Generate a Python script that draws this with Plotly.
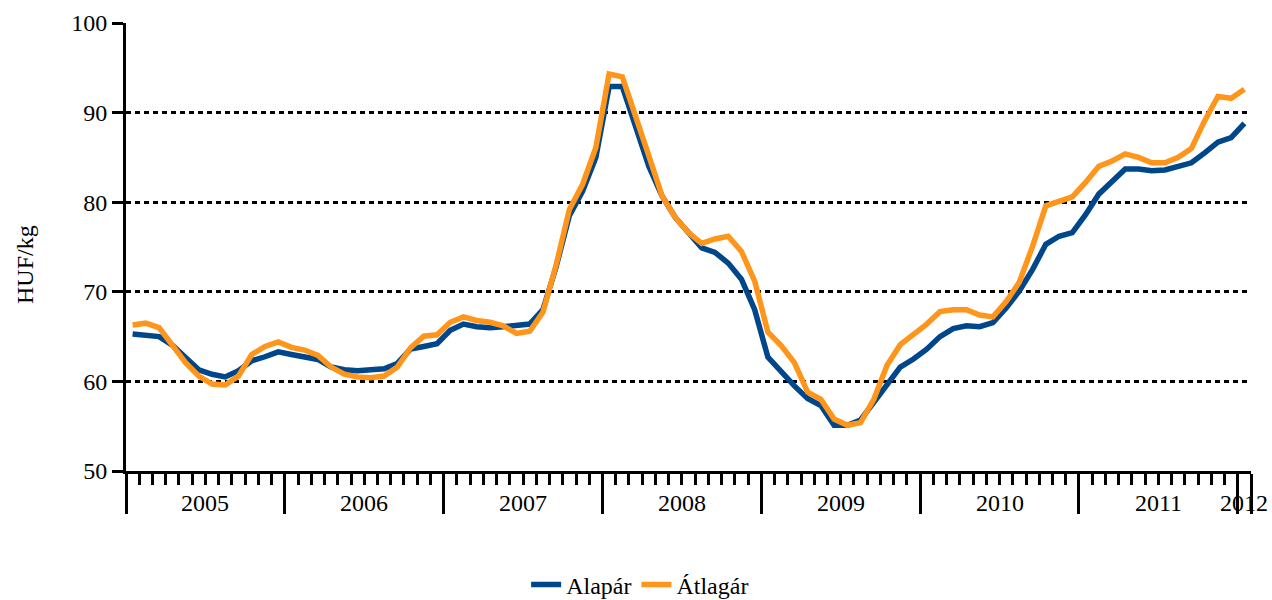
import plotly.graph_objects as go

# Monthly data, Jan 2005 - Jan 2012
years = ["2005", "2006", "2007", "2008", "2009", "2010", "2011", "2012"]
months_per_year = [12, 12, 12, 12, 12, 12, 12, 1]
months = [f"{y}-{m:02d}" for y, n in zip(years, months_per_year) for m in range(1, n + 1)]

alapar = [65.3, 65.1, 65.0, 64.05, 62.6, 61.3, 60.8, 60.5, 61.2, 62.3,
          62.75, 63.3, 63.0, 62.75, 62.45, 61.6, 61.3, 61.2, 61.3, 61.4,
          62.0, 63.6, 63.9, 64.2, 65.7, 66.4, 66.1, 66.0, 66.1, 66.2,
          66.4, 68.0, 72.8, 78.5, 81.25, 85.0, 92.9, 92.9, 88.5, 84.0,
          80.7, 78.3, 76.6, 74.9, 74.4, 73.2, 71.4, 68.0, 62.7, 61.0,
          59.5, 58.1, 57.3, 55.1, 55.1, 55.7, 57.7, 59.7, 61.6, 62.5,
          63.6, 65.0, 65.9, 66.2, 66.1, 66.55, 68.2, 70.1, 72.5, 75.3,
          76.2, 76.6, 78.6, 80.9, 82.2, 83.7, 83.7, 83.5, 83.6, 84.0,
          84.4, 85.5, 86.7, 87.2, 88.8]

atlagar = [66.3, 66.5, 66.0, 64.1, 62.1, 60.6, 59.7, 59.6, 60.6, 63.0,
           63.9, 64.4, 63.8, 63.5, 62.9, 61.6, 60.8, 60.5, 60.4, 60.6,
           61.6, 63.75, 65.05, 65.2, 66.6, 67.2, 66.8, 66.6, 66.2, 65.35,
           65.6, 67.7, 73.0, 79.2, 82.0, 86.1, 94.3, 94.0, 89.8, 85.2,
           80.7, 78.3, 76.6, 75.4, 75.9, 76.2, 74.5, 71.2, 65.5, 64.0,
           62.1, 58.8, 58.0, 55.8, 55.1, 55.4, 58.0, 61.8, 64.1, 65.3,
           66.4, 67.8, 68.0, 68.0, 67.4, 67.2, 68.9, 71.1, 75.1, 79.6,
           80.1, 80.6, 82.2, 84.0, 84.6, 85.4, 85.0, 84.4, 84.4, 85.0,
           86.0, 89.1, 91.8, 91.6, 92.6]

y_ticks = [50, 60, 70, 80, 90, 100]

x = list(range(len(months)))
FONT = "Liberation Serif"
FS = 24

fig = go.Figure()
fig.add_trace(go.Scatter(x=x, y=alapar, mode="lines", name="Alapár",
                         line=dict(color="#00468A", width=5.5), text=months,
                         hovertemplate="%{text}: %{y}<extra>Alapár</extra>"))
fig.add_trace(go.Scatter(x=x, y=atlagar, mode="lines", name="Átlagár",
                         line=dict(color="#FF951A", width=5.5), text=months,
                         hovertemplate="%{text}: %{y}<extra>Átlagár</extra>"))

# year boundaries and centres
bounds = [-0.5]
centers = []
start = 0
for n in months_per_year:
    centers.append(start + (n - 1) / 2)
    start += n
    bounds.append(start - 0.5)
month_bounds = [i - 0.5 for i in x if (i - 0.5) not in bounds]

annotations = []
for yr, c in zip(years, centers):
    annotations.append(dict(x=c, y=(471 - 503) / 448, xref="x", yref="paper", text=yr,
                            showarrow=False, font=dict(family=FONT, size=FS, color="black"),
                            xanchor="center", yanchor="middle"))
annotations.append(dict(x=-0.0898, y=0.462, xref="paper", yref="paper", text="HUF/kg",
                        textangle=-90, showarrow=False,
                        font=dict(family=FONT, size=FS, color="black"),
                        xanchor="center", yanchor="middle"))

fig.update_layout(
    width=1272, height=600,
    margin=dict(l=126, r=21, t=23, b=129, autoexpand=False),
    paper_bgcolor="white", plot_bgcolor="white",
    font=dict(family=FONT, size=FS, color="black"),
    showlegend=True,
    legend=dict(orientation="h", x=0.457, y=-0.254, xanchor="center", yanchor="middle",
                font=dict(family=FONT, size=FS, color="black"), itemwidth=30,
                bgcolor="rgba(0,0,0,0)"),
    annotations=annotations,
)
fig.update_xaxes(
    range=[-0.5, len(months) - 0.5], showgrid=False, zeroline=False,
    showline=True, linecolor="black", linewidth=3,
    tickmode="array", tickvals=bounds, ticktext=["" for _ in bounds],
    ticks="outside", ticklen=40, tickwidth=3, tickcolor="black",
    minor=dict(tickmode="array", tickvals=month_bounds, ticks="outside",
               ticklen=11, tickwidth=3, tickcolor="black", showgrid=False),
)
fig.update_yaxes(
    range=[50, 100], tickmode="array", tickvals=y_ticks,
    showgrid=True, gridcolor="black", gridwidth=3, griddash="5px,4px",
    zeroline=False, showline=True, linecolor="black", linewidth=3,
    ticks="outside", ticklen=11, tickwidth=3, tickcolor="black",
    tickfont=dict(family=FONT, size=FS, color="black"),
)

fig.write_html("out.html", config={"displayModeBar": False},
               post_script="document.body.style.margin='0';")
